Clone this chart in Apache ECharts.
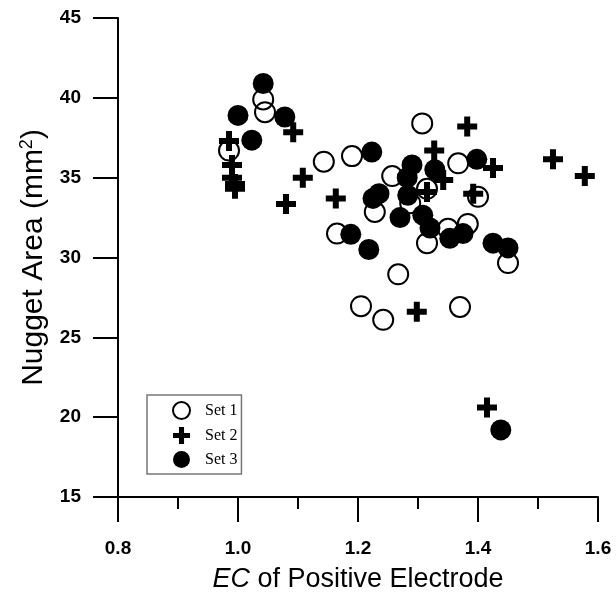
<!DOCTYPE html>
<html>
<head>
<meta charset="utf-8">
<script src="https://cdn.jsdelivr.net/npm/echarts@6/dist/echarts.min.js"></script>
<style>
	html, body { margin: 0; padding: 0; background: #fff; }
	#chart { width: 616px; height: 600px; }
</style>
</head>
<body>
<div id="chart"></div>
<script>
var seriesNames = ['Set 1', 'Set 2', 'Set 3'];
var xTicks = [0.8, 1.0, 1.2, 1.4, 1.6];
var yTicks = [15, 20, 25, 30, 35, 40, 45];

// [EC, nugget area]
var set1 = [[0.985, 36.7], [1.042, 39.9], [1.045, 39.1], [1.143, 36.0], [1.19, 36.35], [1.228, 32.85],
	[1.257, 35.1], [1.307, 38.4], [1.287, 33.4], [1.315, 34.3], [1.315, 30.9], [1.165, 31.5],
	[1.267, 28.95], [1.205, 26.95], [1.242, 26.1], [1.37, 26.9], [1.367, 35.9], [1.40, 33.8],
	[1.383, 32.1], [1.35, 31.8], [1.45, 29.65]];
var set2 = [[0.985, 37.3], [0.99, 35.8], [0.99, 35.0], [0.995, 34.6], [0.995, 34.3], [1.092, 37.85],
	[1.108, 35.0], [1.08, 33.35], [1.163, 33.7], [1.327, 36.7], [1.342, 34.85], [1.315, 34.1],
	[1.298, 26.6], [1.382, 38.2], [1.425, 35.6], [1.392, 34.0], [1.525, 36.15], [1.578, 35.1],
	[1.415, 20.6]];
var set3 = [[1.0, 38.9], [1.042, 40.9], [1.078, 38.8], [1.023, 37.35], [1.223, 36.6], [1.29, 35.8],
	[1.328, 35.5], [1.282, 35.0], [1.235, 34.0], [1.225, 33.7], [1.283, 33.9], [1.27, 32.5],
	[1.308, 32.65], [1.32, 31.85], [1.353, 31.2], [1.375, 31.5], [1.188, 31.45], [1.218, 30.5],
	[1.398, 36.15], [1.425, 30.9], [1.45, 30.6], [1.438, 19.2]];

var plusPath = 'path://M7,0h6v7h7v6h-7v7h-6v-7h-7v-6h7z';
var tickFont = { color: '#000', fontFamily: 'Liberation Sans', fontWeight: 'bold', fontSize: 19 };

var myChart = echarts.init(document.getElementById('chart'));
myChart.setOption({
	animation: false,
	grid: {
		left: 118,
		right: 18,
		top: 18,
		bottom: 103
	},
	legend: {
		orient: 'vertical',
		left: 147,
		top: 395,
		data: seriesNames,
		backgroundColor: '#fff',
		borderColor: '#777',
		borderWidth: 1.5,
		borderRadius: 0,
		padding: [6, 4, 6, 25],
		itemGap: 7,
		itemWidth: 17,
		itemHeight: 17,
		textStyle: {
			color: '#000',
			fontFamily: 'Liberation Serif',
			fontSize: 16,
			padding: [0, 0, 0, 10]
		}
	},
	xAxis: {
		type: 'value',
		min: 0.8,
		max: 1.6,
		interval: 0.2,
		name: '{i|EC} of Positive Electrode',
		nameLocation: 'middle',
		nameGap: 69,
		nameTextStyle: {
			color: '#000',
			fontFamily: 'Liberation Sans',
			fontSize: 27,
			rich: {
				i: { fontStyle: 'italic', fontFamily: 'Liberation Sans', fontSize: 27, color: '#000' }
			}
		},
		axisLine: { onZero: false, lineStyle: { color: '#000', width: 2 } },
		axisTick: { inside: false, length: 25, lineStyle: { color: '#000', width: 2 } },
		minorTick: { show: true, splitNumber: 2, length: 12, lineStyle: { color: '#000', width: 2 } },
		axisLabel: Object.assign({
			margin: 42,
			formatter: function(value) {
				return value.toFixed(1);
			}
		}, tickFont),
		splitLine: { show: false }
	},
	yAxis: {
		type: 'value',
		min: 15,
		max: 45,
		interval: 5,
		name: 'Nugget Area (mm{sup|2})',
		nameLocation: 'middle',
		nameGap: 64,
		nameTextStyle: {
			color: '#000',
			fontFamily: 'Liberation Sans',
			fontSize: 30,
			rich: {
				sup: { fontFamily: 'Liberation Sans', fontSize: 18, verticalAlign: 'top', padding: [0, 0, 14, 0], color: '#000' }
			}
		},
		axisLine: { onZero: false, lineStyle: { color: '#000', width: 2 } },
		axisTick: { inside: false, length: 25, lineStyle: { color: '#000', width: 2 } },
		axisLabel: Object.assign({ margin: 37 }, tickFont),
		splitLine: { show: false }
	},
	series: [{
		name: 'Set 1',
		type: 'scatter',
		data: set1,
		symbol: 'circle',
		symbolSize: 20,
		z: 2,
		itemStyle: { color: 'rgba(0,0,0,0)', borderColor: '#000', borderWidth: 2, opacity: 1 }
	}, {
		name: 'Set 2',
		type: 'scatter',
		data: set2,
		symbol: plusPath,
		symbolSize: 20,
		z: 3,
		itemStyle: { color: '#000', opacity: 1 }
	}, {
		name: 'Set 3',
		type: 'scatter',
		data: set3,
		symbol: 'circle',
		symbolSize: 21,
		z: 4,
		itemStyle: { color: '#000', opacity: 1 }
	}]
});
</script>
</body>
</html>
